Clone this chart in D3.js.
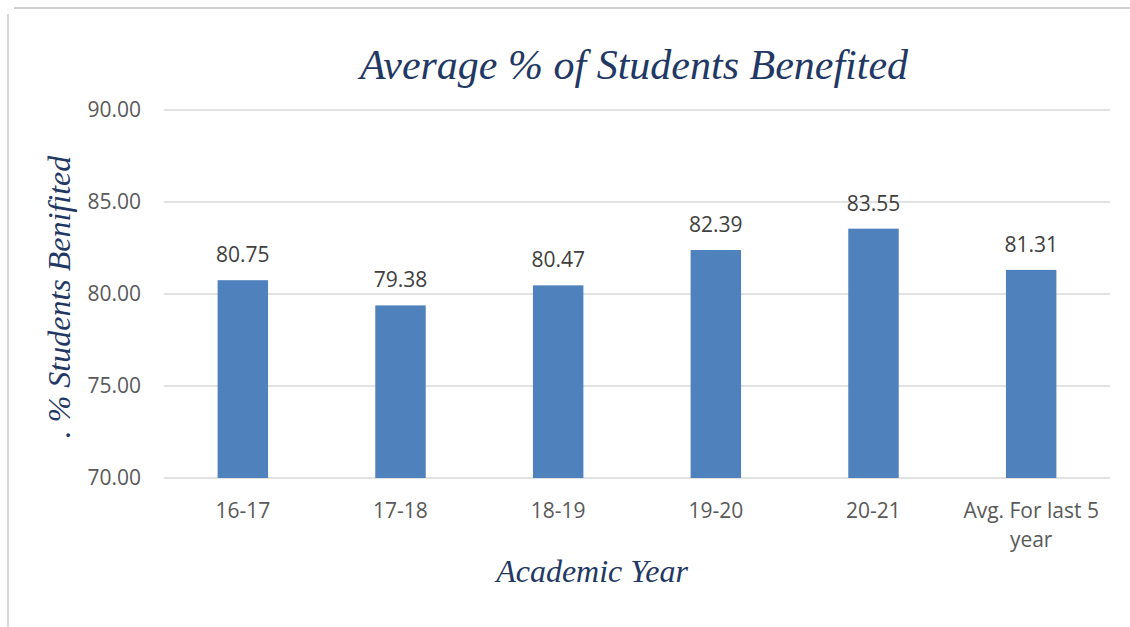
<!DOCTYPE html>
<html>
<head>
<meta charset="utf-8">
<script src="https://cdn.jsdelivr.net/npm/d3@7"></script>
<style>
  body { margin: 0; background: #fff; }
  svg { display: block; }
</style>
</head>
<body>
<svg id="chart" width="1130" height="627"></svg>
<script>
// data
const years = ["16-17", "17-18", "18-19", "19-20", "20-21", "Avg. For last 5 year"];
const benefited = [80.75, 79.38, 80.47, 82.39, 83.55, 81.31];
const yTicks = [70, 75, 80, 85, 90];

const svg = d3.select("#chart");

// frame lines round the chart (from the page it was cut out of)
svg.append("line").attr("x1", 14).attr("x2", 1130).attr("y1", 8).attr("y2", 8)
  .style("stroke", "#d0d0d0").style("stroke-width", 2);
svg.append("line").attr("x1", 8).attr("x2", 8).attr("y1", 14).attr("y2", 627)
  .style("stroke", "#d8d8d8").style("stroke-width", 2);

const x = d3.scaleBand().domain(years).range([164, 1110]).paddingInner(0.68).paddingOuter(0.34);
const y = d3.scaleLinear().domain([70, 90]).range([478, 110]);

// gridlines
svg.append("g")
  .selectAll("line")
  .data(yTicks)
  .enter()
  .append("line")
  .attr("x1", 164).attr("x2", 1110)
  .attr("y1", d => y(d)).attr("y2", d => y(d))
  .style("stroke", "#d9d9d9").style("stroke-width", 1.3);

// y tick labels
svg.append("g")
  .selectAll("text")
  .data(yTicks)
  .enter()
  .append("text")
  .attr("x", 141)
  .attr("y", d => y(d) + 7)
  .attr("text-anchor", "end")
  .style("font-family", "'Open Sans', sans-serif")
  .style("font-size", "21px")
  .style("fill", "#595959")
  .text(d => d.toFixed(2));

// bars
svg.append("g")
  .selectAll("rect")
  .data(benefited)
  .enter()
  .append("rect")
  .attr("x", (d, i) => x(years[i]))
  .attr("width", x.bandwidth())
  .attr("y", d => y(d))
  .attr("height", d => y(70) - y(d))
  .style("fill", "#4f81bd");

// value labels
svg.append("g")
  .selectAll("text")
  .data(benefited)
  .enter()
  .append("text")
  .attr("x", (d, i) => x(years[i]) + x.bandwidth() / 2)
  .attr("y", d => y(d) - 18)
  .attr("text-anchor", "middle")
  .style("font-family", "'Open Sans', sans-serif")
  .style("font-size", "21px")
  .style("fill", "#404040")
  .text(d => d.toFixed(2));

// category labels (last one wraps on two lines)
const cat = svg.append("g")
  .selectAll("text")
  .data(years)
  .enter()
  .append("text")
  .attr("x", d => x(d) + x.bandwidth() / 2)
  .attr("y", 518)
  .attr("text-anchor", "middle")
  .style("font-family", "'Open Sans', sans-serif")
  .style("font-size", "21px")
  .style("fill", "#595959");
cat.each(function(d) {
  const lines = d === "Avg. For last 5 year" ? ["Avg. For last 5", "year"] : [d];
  d3.select(this).selectAll("tspan")
    .data(lines)
    .enter()
    .append("tspan")
    .attr("x", d3.select(this).attr("x"))
    .attr("dy", (l, i) => i === 0 ? 0 : 29)
    .text(l => l);
});

// titles
svg.append("text")
  .attr("x", 634).attr("y", 79)
  .attr("text-anchor", "middle")
  .style("font-family", "'Liberation Serif', 'Times New Roman', serif")
  .style("font-style", "italic")
  .style("font-size", "42px")
  .style("fill", "#1f3864")
  .text("Average % of Students Benefited");

svg.append("text")
  .attr("x", 592).attr("y", 582)
  .attr("text-anchor", "middle")
  .style("font-family", "'Liberation Serif', 'Times New Roman', serif")
  .style("font-style", "italic")
  .style("font-size", "32px")
  .style("fill", "#1f3864")
  .text("Academic Year");

svg.append("text")
  .attr("transform", "translate(70,297) rotate(-90)")
  .attr("text-anchor", "middle")
  .style("font-family", "'Liberation Serif', 'Times New Roman', serif")
  .style("font-style", "italic")
  .style("font-size", "32px")
  .style("fill", "#1f3864")
  .text(". % Students Benifited");
</script>
</body>
</html>
